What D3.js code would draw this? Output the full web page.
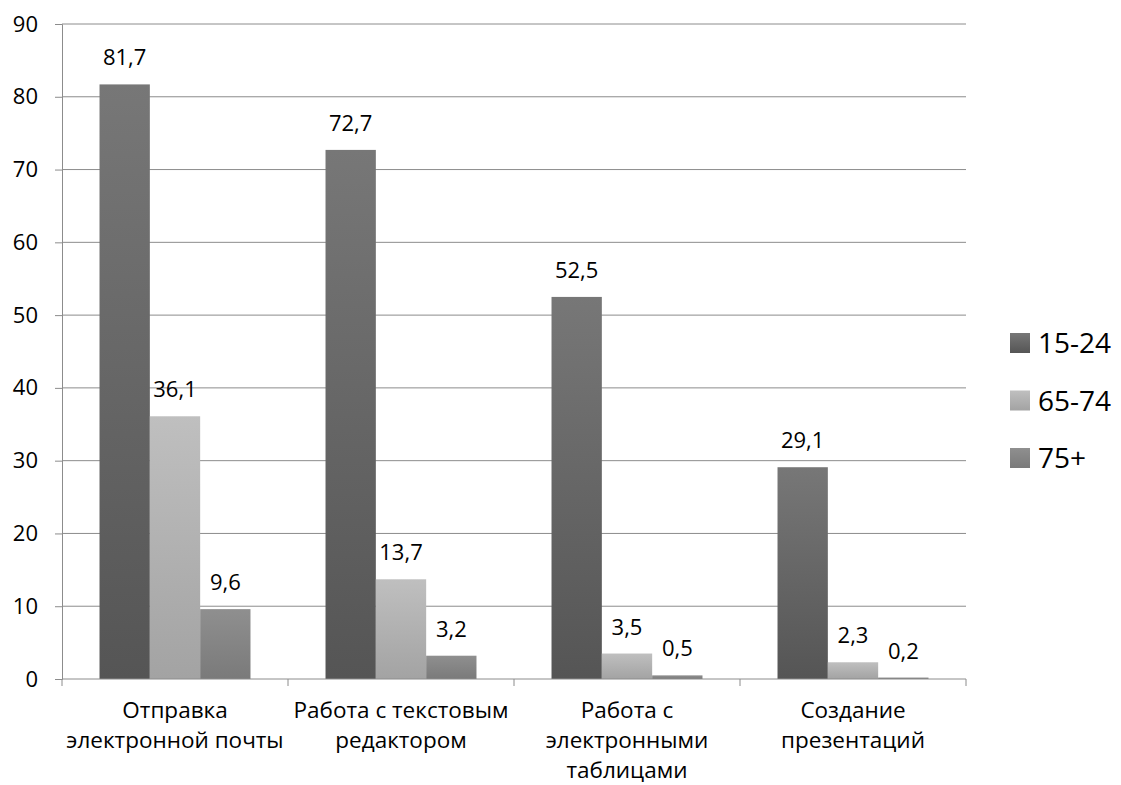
<!DOCTYPE html>
<html>
<head>
<meta charset="utf-8">
<script src="https://cdn.jsdelivr.net/npm/d3@7"></script>
<style>
  body { margin: 0; background: #fff; }
  text { font-family: "Open Sans", "Noto Sans", sans-serif; fill: #000; }
</style>
</head>
<body>
<div id="chart"></div>
<script>
const categories = [
  ['Отправка', 'электронной почты'],
  ['Работа с текстовым', 'редактором'],
  ['Работа с', 'электронными', 'таблицами'],
  ['Создание', 'презентаций'],
]
const series = ['15-24', '65-74', '75+']
const values = {
  '15-24': [81.7, 72.7, 52.5, 29.1],
  '65-74': [36.1, 13.7, 3.5, 2.3],
  '75+': [9.6, 3.2, 0.5, 0.2],
}
const yTicks = [0, 10, 20, 30, 40, 50, 60, 70, 80, 90]

const W = 1121, H = 785
const margin = { left: 62, right: 155, top: 24, bottom: 106 }
const width = W - margin.left - margin.right
const height = H - margin.top - margin.bottom

const svg = d3.select('#chart').append('svg')
  .attr('width', W)
  .attr('height', H)

// bar gradients
const grads = {
  '15-24': ['#777777', '#555555'],
  '65-74': ['#bfbfbf', '#a3a3a3'],
  '75+': ['#8f8f8f', '#7a7a7a'],
}
const defs = svg.append('defs')
series.forEach((s, i) => {
  const lg = defs.append('linearGradient')
    .attr('id', 'g' + i)
    .attr('x1', 0).attr('y1', 0).attr('x2', 0).attr('y2', 1)
  lg.append('stop').attr('offset', '0%').attr('stop-color', grads[s][0])
  lg.append('stop').attr('offset', '100%').attr('stop-color', grads[s][1])
})

const g = svg.append('g')
  .attr('transform', `translate(${margin.left}, ${margin.top})`)

const x0 = d3.scaleBand()
  .domain(d3.range(categories.length))
  .range([0, width])

const x1 = d3.scaleBand()
  .domain(series)
  .range([x0.bandwidth() * 0.166, x0.bandwidth() * 0.834])

const y = d3.scaleLinear()
  .domain([0, 90])
  .range([height, 0])

// gridlines
g.selectAll('.grid')
  .data(yTicks.slice(1))
  .enter().append('line')
  .attr('x1', 0).attr('x2', width)
  .attr('y1', d => y(d)).attr('y2', d => y(d))
  .attr('stroke', '#8c8c8c')
  .attr('stroke-width', 1)

// y axis
const yAxis = g.append('g')
  .call(d3.axisLeft(y).tickValues(yTicks).tickSize(7).tickPadding(17))
yAxis.select('.domain').attr('stroke', '#8c8c8c')
yAxis.selectAll('line').attr('stroke', '#8c8c8c')
yAxis.selectAll('text')
  .attr('font-size', '22px')
  .attr('font-family', '"Open Sans", "Noto Sans", sans-serif')
  .attr('fill', '#000')

// bars
series.forEach((s, si) => {
  g.selectAll('.bar' + si)
    .data(values[s])
    .enter().append('rect')
    .attr('x', (d, i) => x0(i) + x1(s))
    .attr('y', d => y(d))
    .attr('width', x1.bandwidth())
    .attr('height', d => height - y(d))
    .attr('fill', `url(#g${si})`)

  g.selectAll('.lbl' + si)
    .data(values[s])
    .enter().append('text')
    .attr('x', (d, i) => x0(i) + x1(s) + x1.bandwidth() / 2)
    .attr('y', d => y(d) - 19)
    .attr('text-anchor', 'middle')
    .attr('font-size', '22px')
    .text(d => d3.format('.1f')(d).replace('.', ','))
})

// x axis
g.append('line')
  .attr('x1', 0).attr('x2', width)
  .attr('y1', height).attr('y2', height)
  .attr('stroke', '#8c8c8c')
g.selectAll('.xtick')
  .data(d3.range(categories.length + 1))
  .enter().append('line')
  .attr('x1', d => d * x0.step()).attr('x2', d => d * x0.step())
  .attr('y1', height).attr('y2', height + 7)
  .attr('stroke', '#8c8c8c')

categories.forEach((lines, i) => {
  const t = g.append('text')
    .attr('text-anchor', 'middle')
    .attr('font-size', '22.5px')
    .attr('transform', `translate(${x0(i) + x0.bandwidth() / 2}, ${height + 39})`)
  lines.forEach((ln, j) => {
    t.append('tspan').attr('x', 0).attr('y', j * 30).text(ln)
  })
})

// legend
const legend = svg.append('g')
  .attr('transform', `translate(1010, 333)`)
series.forEach((s, i) => {
  const row = legend.append('g')
    .attr('transform', `translate(0, ${i * 57.5})`)
  row.append('rect')
    .attr('width', 20)
    .attr('height', 20)
    .attr('fill', `url(#g${i})`)
  row.append('text')
    .attr('x', 28)
    .attr('y', 20)
    .attr('font-size', '28px')
    .text(s)
})
</script>
</body>
</html>
